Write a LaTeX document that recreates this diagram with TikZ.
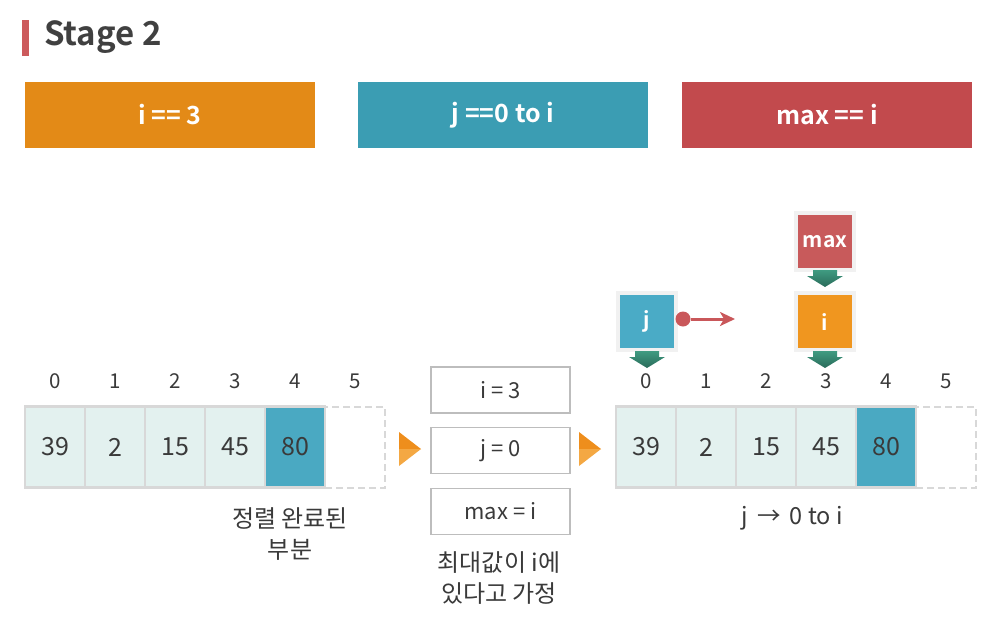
\documentclass[tikz,border=0pt]{standalone}
\usepackage{fontspec}
\setmainfont{Noto Sans CJK KR}[BoldFont={Noto Sans CJK KR Bold}]
\usetikzlibrary{arrows.meta}
\definecolor{titlered}{HTML}{CC5A5C}
\definecolor{titletxt}{HTML}{404040}
\definecolor{boxorange}{HTML}{E38A17}
\definecolor{boxteal}{HTML}{3B9DB3}
\definecolor{boxred}{HTML}{C24A4D}
\definecolor{cellfill}{HTML}{E3F1EF}
\definecolor{cellborder}{HTML}{D8D8D8}
\definecolor{cellhi}{HTML}{4AA9C2}
\definecolor{txt}{HTML}{3A3A3A}
\definecolor{greybox}{HTML}{BDBDBD}
\definecolor{triA}{HTML}{EE8E1C}
\definecolor{triB}{HTML}{F4A843}
\definecolor{jblue}{HTML}{4AABC6}
\definecolor{iorange}{HTML}{F0961F}
\definecolor{maxred}{HTML}{C85A5B}
\definecolor{frame}{HTML}{F1F1F1}
\definecolor{gtop}{HTML}{3F9B81}
\definecolor{gbot}{HTML}{2A6B5A}
\definecolor{conred}{HTML}{C9575A}
\begin{document}
\begin{tikzpicture}[x=1pt,y=-1pt,
  topbox/.style={minimum width=290pt, minimum height=66pt, inner sep=0pt, text=white,
    font=\fontsize{25}{30}\selectfont\bfseries},
  cell/.style={draw=cellborder, line width=2.5pt, fill=cellfill, minimum width=60pt,
    minimum height=81pt, inner sep=0pt, text=txt, font=\fontsize{25}{29}\selectfont},
  hicell/.style={cell, fill=cellhi},
  emptycell/.style={draw=cellborder, line width=2pt, dash pattern=on 7pt off 4pt, fill=white,
    minimum width=60pt, minimum height=81pt, inner sep=0pt},
  idx/.style={text=txt, font=\fontsize{20.5}{24}\selectfont, inner sep=0pt},
  varbox/.style={draw=greybox, line width=1.8pt, fill=white, minimum width=139pt,
    minimum height=46pt, inner sep=0pt, text=txt, font=\fontsize{22}{26}\selectfont},
  note/.style={align=center, text=txt, font=\fontsize{24}{31}\selectfont, inner sep=0pt},
  ptr/.style={draw=frame, line width=4pt, minimum width=58pt, minimum height=57pt,
    inner sep=0pt, text=white, font=\fontsize{21}{25}\selectfont\bfseries},
  garrow/.pic={\shade[top color=gtop, bottom color=gbot]
    (-12,0) -- (12,0) -- (12,6) -- (18,6) -- (0,17) -- (-18,6) -- (-12,6) -- cycle;}
]
\useasboundingbox (0,0) rectangle (995,632);

% title
\fill[titlered] (22,20) rectangle (29,56);
\node[anchor=west, inner sep=0pt, text=titletxt, font=\fontsize{33}{40}\selectfont\bfseries] (title) at (44,37) {Stage 2};

% top boxes
\node[topbox, fill=boxorange] (ti) at (170,115) {i == 3};
\node[topbox, fill=boxteal] (tj) at (503,115) {j ==0 to i};
\node[topbox, fill=boxred] (tm) at (827,115) {max == i};

% left array
\node[emptycell] (L5) at (355,447) {};
\foreach \k/\v in {0/39,1/2,2/15,3/45} {
  \node[cell] (L\k) at (55+60*\k,447) {\v};
}
\node[hicell] (L4) at (295,447) {80};
\foreach \k in {0,...,5} {
  \node[idx] (Li\k) at (55+60*\k,381) {\k};
}
\node[note] (Lnote) at (290,534) {정렬 완료된\\부분};

% triangles
\fill[triA] (399,432) -- (421,449) -- (399,449) -- cycle;
\fill[triB] (399,449) -- (421,449) -- (399,466) -- cycle;
\fill[triA] (579,432) -- (601,449) -- (579,449) -- cycle;
\fill[triB] (579,449) -- (601,449) -- (579,466) -- cycle;

% middle boxes
\node[varbox] (vi) at (500.5,390) {i = 3};
\node[varbox] (vj) at (500.5,450.5) {j = 0};
\node[varbox] (vm) at (500.5,511.5) {max = i};
\node[note] (Mnote) at (499,578) {최대값이 i에\\있다고 가정};

% right array
\node[emptycell] (R5) at (946,447) {};
\foreach \k/\v in {0/39,1/2,2/15,3/45} {
  \node[cell] (R\k) at (646+60*\k,447) {\v};
}
\node[hicell] (R4) at (886,447) {80};
\foreach \k in {0,...,5} {
  \node[idx] (Ri\k) at (646+60*\k,381) {\k};
}
\node[text=txt, font=\fontsize{23.5}{27}\selectfont, inner sep=0pt] (Rnote) at (792,518) {j \,→\, 0 to i};

% pointers
\node[ptr, fill=jblue] (jbox) at (647,321.5) {j};
\node[ptr, fill=maxred] (maxbox) at (825,241.5) {max};
\node[ptr, fill=iorange] (ibox) at (825,321.5) {i};
\pic at ([yshift=1pt]jbox.south) {garrow};
\pic at ([yshift=2pt]maxbox.south) {garrow};
\pic at ([yshift=1pt]ibox.south) {garrow};

% j moving arrow
\node[circle, fill=conred, minimum size=15pt, inner sep=0pt] (dot) at (683,319) {};
\coordinate (jend) at (735,319);
\draw[conred, line width=3pt, -{Stealth[length=15pt, width=14pt, inset=4pt]}] (dot) -- (jend);
\end{tikzpicture}
\end{document}
